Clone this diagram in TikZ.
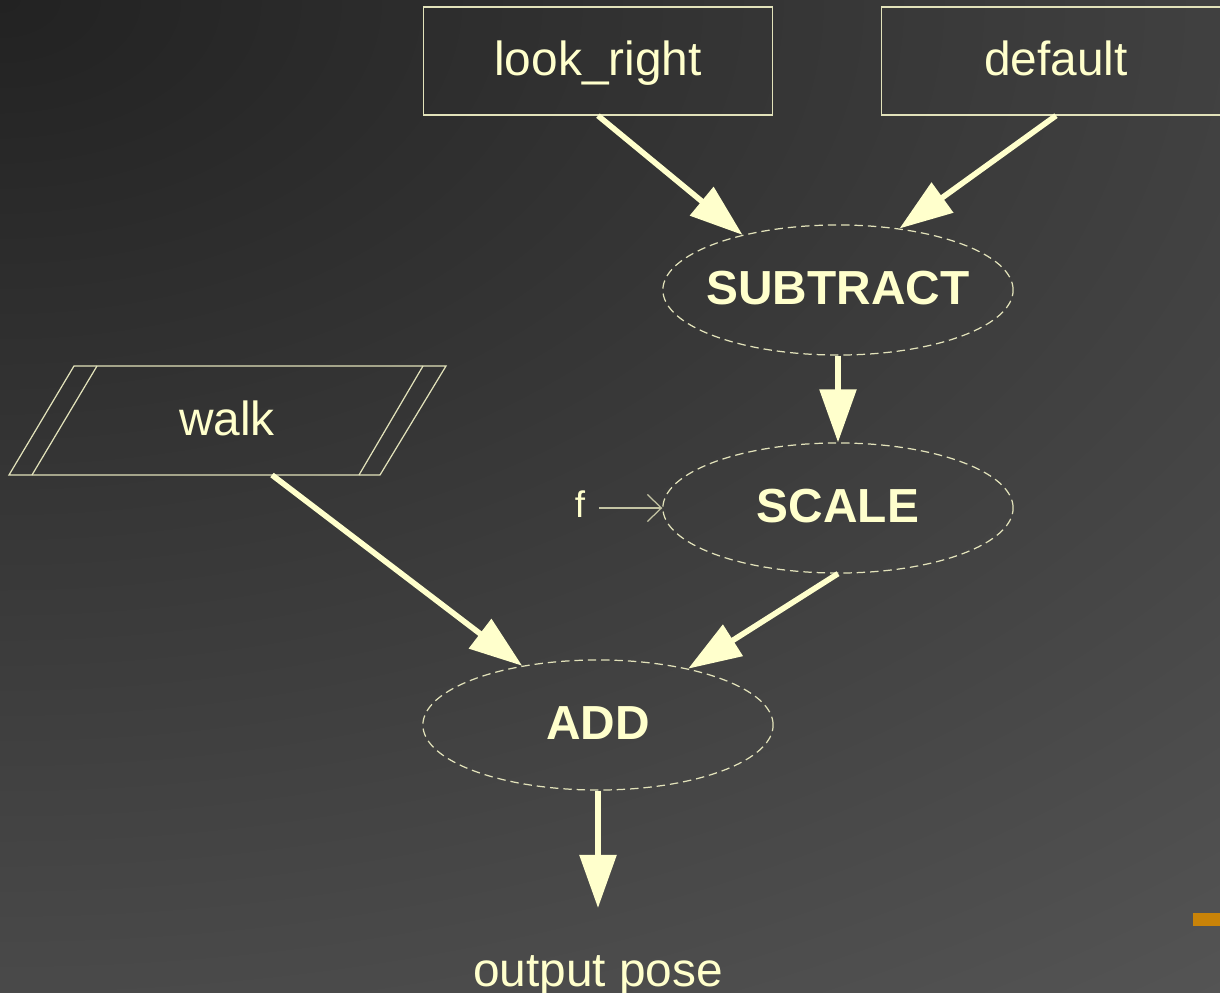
\documentclass[tikz,border=0pt]{standalone}
\usepackage{fontspec}
\setmainfont{Liberation Sans}
\usetikzlibrary{calc, positioning, arrows.meta, shapes.geometric}
\definecolor{cream}{HTML}{FFFFCC}
\definecolor{wire}{HTML}{E2E2BA}
\definecolor{dim}{HTML}{C4C4A4}
\definecolor{bgin}{HTML}{222222}
\definecolor{bgmid}{HTML}{4A4A4A}
\definecolor{bgout}{HTML}{5A5A5A}
\definecolor{smudge}{HTML}{C98308}
\pgfdeclareradialshading{backdrop}{\pgfpointorigin}{color(0bp)=(bgin); color(50bp)=(bgmid); color(70bp)=(bgout)}

\begin{document}
\begin{tikzpicture}
                      [x=0.01cm, y=-0.01cm, text centered, text=cream,
                       font=\fontsize{13.6}{16}\selectfont,
                       txt/.style={text height=10pt, text depth=2pt, inner sep=0pt},
                       box/.style={txt, draw=wire, line width=0.35pt, minimum width=3.49cm, minimum height=1.08cm},
                       op/.style={txt, ellipse, draw=wire, line width=0.35pt, dash pattern=on 2.4pt off 1.4pt,
                                  minimum width=3.5cm, minimum height=1.3cm, inner xsep=-3pt,
                                  font=\fontsize{13.6}{16}\selectfont\bfseries},
                       flow/.style={-{Triangle[length=0.53cm, width=0.36cm]}, line width=1.6pt, draw=cream}]
                      % background %
                      \useasboundingbox (0,0) rectangle (1220,993);
                      \clip (0,0) rectangle (1220,993);
                      \node[inner sep=0pt, outer sep=0pt, transform shape, xscale=9.105, yscale=5.69] (glow) at (0,0) {\pgfuseshading{backdrop}};
                      \fill[smudge] (1193,913) rectangle (1220,926);

                      % nodes %
                      \node[box] (look) at (598,61) {look\_right};
                      \node[box] (dflt) at (1056,61) {default};
                      \node[op] (subtract) at (838,290) {SUBTRACT};
                      \node[op] (scale) at (838,508) {SCALE};
                      \node[op] (add) at (598,725) {ADD};
                      \node[txt] (walk) at (227,421) {walk};
                      \node[txt, inner xsep=3.7pt, font=\fontsize{10.5}{12}\selectfont] (f) at (580,503) {f};
                      \node[txt] (pose) at (598,972) {output pose};
                      \coordinate (walk-out) at (272,475);
                      \coordinate (pose-in) at (598,908);

                      % walk outline %
                      \draw[wire, line width=0.35pt] (74,366) -- (446,366) -- (380,475) -- (9,475) -- cycle;
                      \draw[wire, line width=0.35pt] (97,366) -- (32,475) (423,366) -- (359,475);

                      % edges %
                      \draw[flow] (look.south) -- (subtract.150);
                      \draw[flow] (dflt.south) -- (subtract.45);
                      \draw[flow] (subtract.south) -- (scale.north);
                      \draw[flow] (walk-out) -- (add.142);
                      \draw[flow] (scale.south) -- (add.32);
                      \draw[flow] (add.south) -- (pose-in);
                      \draw[-{Straight Barb[length=0.14cm, width=0.27cm]}, dim, line width=0.35pt] (f.east |- scale.west) -- (scale.west);
                    \end{tikzpicture}
\end{document}
